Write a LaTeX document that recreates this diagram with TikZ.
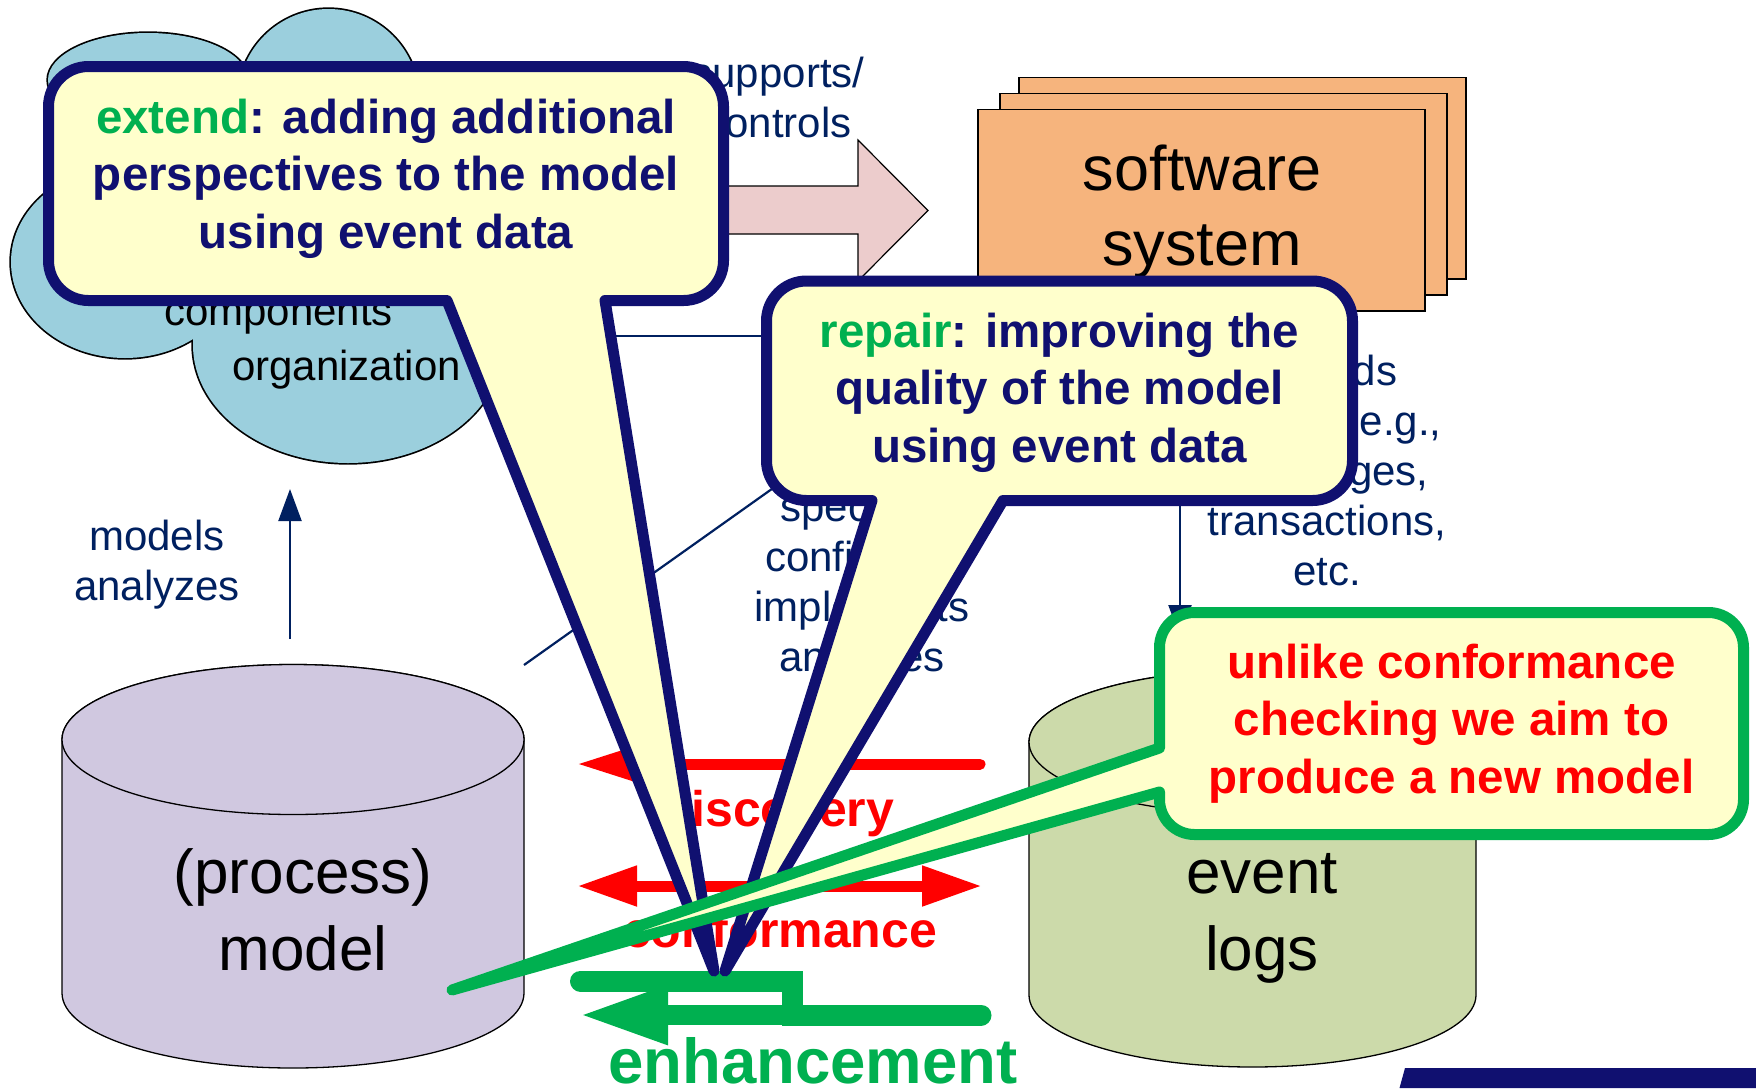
\documentclass[tikz,border=0pt]{standalone}
\usepackage{fontspec}
\setmainfont{Liberation Sans}
\usetikzlibrary{arrows.meta}
\definecolor{navy}{RGB}{16,16,112}
\definecolor{lblue}{RGB}{0,32,96}
\definecolor{cfill}{RGB}{255,255,204}
\definecolor{cgreen}{RGB}{0,176,80}
\definecolor{cred}{RGB}{255,0,0}
\definecolor{cloudc}{RGB}{155,207,221}
\definecolor{pinkc}{RGB}{236,204,204}
\definecolor{orangec}{RGB}{246,180,125}
\definecolor{lavc}{RGB}{208,200,224}
\definecolor{olivec}{RGB}{204,218,170}
\newcommand{\mylines}[1]{\begin{tabular}[t]{@{}c@{}}#1\end{tabular}}
\begin{document}
\begin{tikzpicture}[x=1pt,y=-1pt,
  lbl/.style={inner sep=0pt, anchor=base, text=lblue, font=\fontsize{42pt}{50pt}\selectfont},
  cloudtxt/.style={inner sep=0pt, anchor=base west, text=black, font=\fontsize{42pt}{50pt}\selectfont},
  big/.style={inner sep=0pt, anchor=base, text=black, font=\fontsize{62pt}{77pt}\selectfont},
  ctext/.style={inner sep=0pt, anchor=base, text=navy, font=\fontsize{47.5pt}{57.5pt}\selectfont\bfseries},
  rtext/.style={inner sep=0pt, anchor=base, text=cred, font=\fontsize{50pt}{60pt}\selectfont\bfseries},
  callout/.style={draw=navy, fill=cfill, line width=11pt, line join=round},
  gcallout/.style={draw=cgreen, fill=cfill, line width=11pt, line join=round},
  thinline/.style={draw=lblue, line width=2.2pt},
  thinarrow/.style={thinline, -{Triangle[length=32pt,width=23pt]}},
  boxstyle/.style={fill=orangec, draw=black, line width=1.3pt},
  cyl/.style={draw=black, line width=1.3pt},
]
\useasboundingbox (0,0) rectangle (1756,1088);

% ---------------- cloud ----------------
\draw[black, line width=3.4pt]
  (148,80) ellipse[x radius=100pt, y radius=47pt]
  (328.5,99.6) circle[radius=90.6pt]
  (125,262) ellipse[x radius=114pt, y radius=96pt]
  (348,345) ellipse[x radius=155pt, y radius=118pt]
  (420,250) ellipse[x radius=90pt, y radius=150pt]
  (230,200) ellipse[x radius=150pt, y radius=110pt];
\fill[cloudc]
  (148,80) ellipse[x radius=100pt, y radius=47pt]
  (328.5,99.6) circle[radius=90.6pt]
  (125,262) ellipse[x radius=114pt, y radius=96pt]
  (348,345) ellipse[x radius=155pt, y radius=118pt]
  (420,250) ellipse[x radius=90pt, y radius=150pt]
  (230,200) ellipse[x radius=150pt, y radius=110pt];
\node[cloudtxt] (comp) at (164,325) {components};
\node[cloudtxt] (org) at (232,380) {organization};

% ---------------- supports/controls arrow ----------------
\draw[fill=pinkc, draw=black, line width=1.2pt, line join=miter]
  (600,186) -- (858,186) -- (858,140) -- (928,210.5) -- (858,281) -- (858,234) -- (600,234) -- cycle;
\node[lbl] (sup) at (778,87) {\mylines{supports/\\controls}};

% ---------------- software system ----------------
\draw[boxstyle] (1019,77.5) rectangle (1466,279);
\draw[boxstyle] (1000,93.5) rectangle (1447,295);
\draw[boxstyle] (978,109.5) rectangle (1425,311);
\node[inner sep=0pt, anchor=base, text=black, font=\fontsize{63pt}{75pt}\selectfont] (sw) at (1202,190) {\mylines{software\\system}};

% ---------------- thin connectors ----------------
\coordinate (hA) at (600,336);
\coordinate (hB) at (800,336);
\draw[thinline] (hA) -- (hB);
\coordinate (dA) at (524,665);
\coordinate (dB) at (800,469);
\draw[thinline] (dA) -- (dB);
\coordinate (vA) at (1180,490);
\coordinate (vB) at (1180,637);
\draw[thinarrow] (vA) -- (vB);
\coordinate (mA) at (290,639);
\coordinate (mB) at (290,489);
\draw[thinarrow] (mA) -- (mB);

\node[lbl] (models) at (157,550) {\mylines{models\\analyzes}};
\node[lbl] (spec) at (862,521) {\mylines{specifies\\configures\\implements\\analyzes}};
\node[lbl] (rec) at (1327,385) {\mylines{records\\events, e.g.,\\messages,\\transactions,\\etc.}};

% ---------------- cylinders ----------------
\draw[cyl, fill=lavc] (62,739.5) -- (62,993) arc[start angle=180, end angle=360, x radius=231pt, y radius=75pt]
  -- (524,739.5) arc[start angle=0, end angle=180, x radius=231pt, y radius=75pt] -- cycle;
\draw[cyl, fill=lavc] (293,739.5) ellipse[x radius=231pt, y radius=75pt];
\node[big] (pm) at (303,893) {\mylines{(process)\\model}};

\draw[cyl, fill=olivec] (1029,742) -- (1029,995) arc[start angle=180, end angle=360, x radius=223.5pt, y radius=72pt]
  -- (1476,742) arc[start angle=0, end angle=180, x radius=223.5pt, y radius=72pt] -- cycle;
\draw[cyl, fill=olivec] (1252.5,742) ellipse[x radius=223.5pt, y radius=72pt];
\node[big] (el) at (1262,893) {\mylines{event\\logs}};

% ---------------- discovery / conformance / enhancement ----------------
\coordinate (discR) at (980,764);
\coordinate (discL) at (576,764);
\draw[cred, line width=11pt, line cap=round, -{Triangle[length=57pt,width=31pt]}] (discR) -- (discL);
\node[rtext] (disc) at (777.5,826) {discovery};

\coordinate (confL) at (577,886);
\coordinate (confR) at (982,886);
\draw[cred, line width=11pt, {Triangle[length=60pt,width=38pt]}-{Triangle[length=60pt,width=38pt]}] (confL) -- (confR);
\node[rtext] (conf) at (780,947) {conformance};

\coordinate (enA) at (580.5,981);
\coordinate (enB) at (792.5,981);
\coordinate (enC) at (792.5,1015);
\coordinate (enD) at (981,1015);
\coordinate (enTip) at (578,1015);
\draw[cgreen, line width=21pt, line cap=round] (enA) -- (enB) -- (enC) -- (enD);
\draw[cgreen, line width=20pt, -{Triangle[length=90pt,width=54pt]}] (enD) -- (enTip);
\node[inner sep=0pt, anchor=base, text=cgreen, font=\fontsize{63.5pt}{70pt}\selectfont\bfseries] (enh) at (813,1083) {enhancement};

% ---------------- callouts ----------------
\path[callout] (447,300.5) -- (714,971) -- (605,300.5) -- (683.5,300.5)
  arc[start angle=-90, end angle=0, radius=40pt] -- (723.5,106.5)
  arc[start angle=0, end angle=90, radius=40pt] -- (88.5,66.5)
  arc[start angle=90, end angle=180, radius=40pt] -- (48.5,260.5)
  arc[start angle=180, end angle=270, radius=40pt] -- cycle;
\node[ctext] (ext) at (386,133) {\mylines{{\color{cgreen}extend}: adding additional\\perspectives to the model\\using event data}};

\path[callout] (872,500.5) -- (725,971) -- (1003,500.5) -- (1312.5,500.5)
  arc[start angle=-90, end angle=0, radius=40pt] -- (1352.5,321)
  arc[start angle=0, end angle=90, radius=40pt] -- (806.5,281)
  arc[start angle=90, end angle=180, radius=40pt] -- (766.5,460.5)
  arc[start angle=180, end angle=270, radius=40pt] -- cycle;
\node[ctext] (rep) at (1059.5,347) {\mylines{{\color{cgreen}repair}: improving the\\quality of the model\\using event data}};

\path[gcallout] (1159.5,748) -- (452,990) -- (1159.5,792) -- (1159.5,799.5)
  arc[start angle=180, end angle=270, radius=35pt] -- (1708.5,834.5)
  arc[start angle=270, end angle=360, radius=35pt] -- (1743.5,647.5)
  arc[start angle=0, end angle=90, radius=35pt] -- (1194.5,612.5)
  arc[start angle=90, end angle=180, radius=35pt] -- cycle;
\node[ctext, text=cred] (unl) at (1451.5,678) {\mylines{unlike conformance\\checking we aim to\\produce a new model}};

% ---------------- bottom bar ----------------
\fill[navy] (1405,1068) -- (1756,1068) -- (1756,1088) -- (1399.5,1088) -- cycle;
\end{tikzpicture}
\end{document}
